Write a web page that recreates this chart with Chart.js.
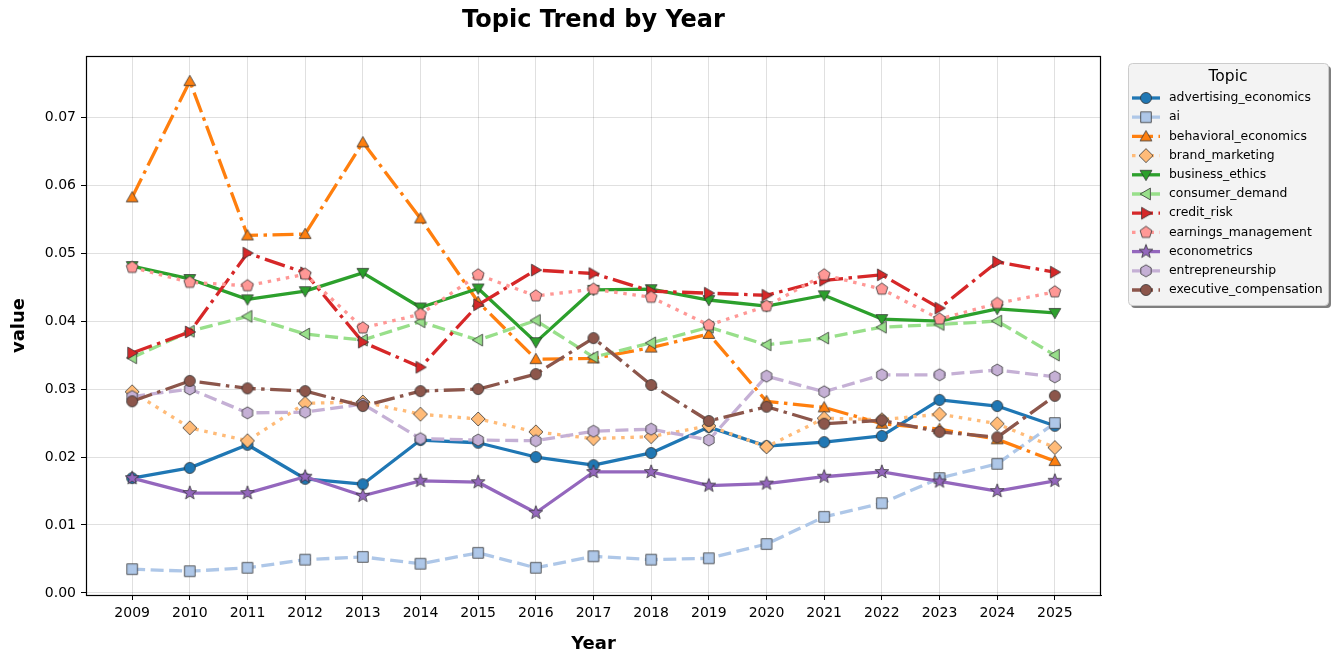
<!DOCTYPE html>
<html>
<head>
<meta charset="utf-8">
<title>Topic Trend by Year</title>
<script src="https://cdn.jsdelivr.net/npm/chart.js@4.4.0/dist/chart.umd.min.js"></script>
<style>
    html, body { margin: 0; padding: 0; background: #ffffff; }
    canvas { display: block; }
</style>
</head>
<body>
<canvas id="topicChart" width="1338" height="663"></canvas>
<script>
// Data
const years = [2009, 2010, 2011, 2012, 2013, 2014, 2015, 2016, 2017, 2018, 2019, 2020, 2021, 2022, 2023, 2024, 2025];
const yTicks = [0.00, 0.01, 0.02, 0.03, 0.04, 0.05, 0.06, 0.07];

const advertisingEconomics = [0.0169, 0.0184, 0.0218, 0.0168, 0.0160, 0.0225, 0.0221, 0.0200, 0.0188, 0.0206, 0.0244, 0.0216, 0.0222, 0.0231, 0.0284, 0.0275, 0.0246];
const ai = [0.0035, 0.0032, 0.0037, 0.0049, 0.0053, 0.0043, 0.0059, 0.0037, 0.0054, 0.0049, 0.0051, 0.0072, 0.0112, 0.0132, 0.0169, 0.0190, 0.0250];
const behavioralEconomics = [0.0582, 0.0753, 0.0526, 0.0528, 0.0663, 0.0551, 0.0428, 0.0344, 0.0345, 0.0361, 0.0381, 0.0282, 0.0273, 0.0249, 0.0241, 0.0226, 0.0194];
const brandMarketing = [0.0296, 0.0243, 0.0224, 0.0279, 0.0281, 0.0263, 0.0256, 0.0237, 0.0227, 0.0230, 0.0246, 0.0215, 0.0257, 0.0255, 0.0263, 0.0249, 0.0214];
const businessEthics = [0.0481, 0.0462, 0.0432, 0.0444, 0.0471, 0.0420, 0.0448, 0.0369, 0.0446, 0.0447, 0.0431, 0.0422, 0.0438, 0.0403, 0.0400, 0.0418, 0.0412];
const consumerDemand = [0.0346, 0.0385, 0.0407, 0.0381, 0.0372, 0.0399, 0.0372, 0.0401, 0.0347, 0.0368, 0.0391, 0.0365, 0.0375, 0.0391, 0.0395, 0.0400, 0.0350];
const creditRisk = [0.0353, 0.0384, 0.0500, 0.0471, 0.0369, 0.0332, 0.0424, 0.0475, 0.0470, 0.0444, 0.0441, 0.0438, 0.0460, 0.0468, 0.0419, 0.0487, 0.0472];
const earningsManagement = [0.0479, 0.0457, 0.0452, 0.0469, 0.0390, 0.0410, 0.0468, 0.0437, 0.0447, 0.0435, 0.0394, 0.0422, 0.0468, 0.0447, 0.0403, 0.0426, 0.0443];
const econometrics = [0.0169, 0.0147, 0.0147, 0.0171, 0.0143, 0.0165, 0.0163, 0.0118, 0.0178, 0.0178, 0.0158, 0.0161, 0.0171, 0.0178, 0.0164, 0.0150, 0.0165];
const entrepreneurship = [0.0289, 0.0300, 0.0265, 0.0266, 0.0278, 0.0227, 0.0225, 0.0224, 0.0238, 0.0241, 0.0225, 0.0319, 0.0296, 0.0321, 0.0321, 0.0328, 0.0318];
const executiveCompensation = [0.0282, 0.0312, 0.0301, 0.0297, 0.0275, 0.0297, 0.0300, 0.0322, 0.0375, 0.0306, 0.0253, 0.0274, 0.0249, 0.0254, 0.0237, 0.0229, 0.0290];

// Line styles (matplotlib-like dash patterns)
const dashes = {
    solid: [],
    dashed: [13, 5.5],
    dashdot: [21, 5.5, 3.5, 5.5],
    dotted: [3.5, 5.7]
};

const series = [
    { label: 'advertising_economics', data: advertisingEconomics, color: '#1f77b4', dash: 'solid', marker: 'circle' },
    { label: 'ai', data: ai, color: '#aec7e8', dash: 'dashed', marker: 'square' },
    { label: 'behavioral_economics', data: behavioralEconomics, color: '#ff7f0e', dash: 'dashdot', marker: 'triUp' },
    { label: 'brand_marketing', data: brandMarketing, color: '#ffbb78', dash: 'dotted', marker: 'diamond' },
    { label: 'business_ethics', data: businessEthics, color: '#2ca02c', dash: 'solid', marker: 'triDown' },
    { label: 'consumer_demand', data: consumerDemand, color: '#98df8a', dash: 'dashed', marker: 'triLeft' },
    { label: 'credit_risk', data: creditRisk, color: '#d62728', dash: 'dashdot', marker: 'triRight' },
    { label: 'earnings_management', data: earningsManagement, color: '#ff9896', dash: 'dotted', marker: 'pentagon' },
    { label: 'econometrics', data: econometrics, color: '#9467bd', dash: 'solid', marker: 'star' },
    { label: 'entrepreneurship', data: entrepreneurship, color: '#c5b0d5', dash: 'dashed', marker: 'hexagon' },
    { label: 'executive_compensation', data: executiveCompensation, color: '#8c564b', dash: 'dashdot', marker: 'circle' }
];

// Marker images
function polygon(ctx, cx, cy, r, n, startAngle) {
    ctx.beginPath();
    for (let i = 0; i < n; i++) {
        const a = startAngle + i * 2 * Math.PI / n;
        const px = cx + r * Math.cos(a), py = cy + r * Math.sin(a);
        if (i === 0) ctx.moveTo(px, py); else ctx.lineTo(px, py);
    }
    ctx.closePath();
}

function makeMarker(shape, color) {
    const size = 20;
    const c = document.createElement('canvas');
    c.width = size; c.height = size;
    const ctx = c.getContext('2d');
    const m = size / 2;
    ctx.fillStyle = color;
    ctx.strokeStyle = '#333333';
    ctx.lineWidth = 0.8;
    ctx.lineJoin = 'miter';
    switch (shape) {
        case 'circle':
            ctx.beginPath();
            ctx.arc(m, m, 5.5, 0, Math.PI * 2);
            break;
        case 'square':
            ctx.beginPath();
            ctx.rect(m - 5.3, m - 5.3, 10.6, 10.6);
            break;
        case 'diamond':
            polygon(ctx, m, m, 7, 4, -Math.PI / 2);
            break;
        case 'triUp':
            polygon(ctx, m, m + 1, 6.8, 3, -Math.PI / 2);
            break;
        case 'triDown':
            polygon(ctx, m, m - 1, 6.8, 3, Math.PI / 2);
            break;
        case 'triLeft':
            polygon(ctx, m + 1, m, 6.8, 3, Math.PI);
            break;
        case 'triRight':
            polygon(ctx, m - 1, m, 6.8, 3, 0);
            break;
        case 'pentagon':
            polygon(ctx, m, m, 6.2, 5, -Math.PI / 2);
            break;
        case 'hexagon':
            polygon(ctx, m, m, 6, 6, -Math.PI / 2);
            break;
        case 'star':
            ctx.beginPath();
            for (let i = 0; i < 10; i++) {
                const r = i % 2 === 0 ? 7.2 : 3;
                const a = -Math.PI / 2 + i * Math.PI / 5;
                const px = m + r * Math.cos(a), py = m + r * Math.sin(a);
                if (i === 0) ctx.moveTo(px, py); else ctx.lineTo(px, py);
            }
            ctx.closePath();
            break;
    }
    ctx.fill();
    ctx.stroke();
    return c;
}

series.forEach(s => { s.markerImg = makeMarker(s.marker, s.color); });

const datasets = series.map((s, i) => ({
    label: s.label,
    data: years.map((yr, k) => ({ x: yr, y: s.data[k] })),
    borderColor: s.color,
    backgroundColor: s.color,
    borderWidth: 3.3,
    borderDash: dashes[s.dash],
    borderCapStyle: 'butt',
    borderJoinStyle: 'round',
    tension: 0,
    pointStyle: s.markerImg,
    pointRadius: 6,
    pointHoverRadius: 6,
    order: series.length - i
}));

// Frame, title and legend drawn on top of the chart
const decorPlugin = {
    id: 'decor',
    afterDraw(chart) {
        const ctx = chart.ctx;
        const a = chart.chartArea;
        ctx.save();
        // axes frame
        ctx.strokeStyle = '#000000';
        ctx.lineWidth = 1.2;
        ctx.strokeRect(a.left + 0.5, a.top + 0.5, a.right - a.left - 1, a.bottom - a.top);

        // chart title
        ctx.fillStyle = '#000000';
        ctx.font = 'bold 24px "DejaVu Sans"';
        ctx.textAlign = 'center';
        ctx.textBaseline = 'middle';
        ctx.fillText('Topic Trend by Year', (a.left + a.right) / 2, 21);

        // legend box
        const bx = 1128, by = 63, bw = 200, bh = 242;
        ctx.fillStyle = 'rgba(0,0,0,0.5)';
        ctx.beginPath();
        ctx.roundRect(bx + 3, by + 3, bw, bh, 4);
        ctx.fill();
        ctx.fillStyle = '#f3f3f3';
        ctx.strokeStyle = '#cccccc';
        ctx.lineWidth = 1;
        ctx.beginPath();
        ctx.roundRect(bx + 0.5, by + 0.5, bw, bh, 4);
        ctx.fill();
        ctx.stroke();

        ctx.fillStyle = '#000000';
        ctx.font = '15.5px "DejaVu Sans"';
        ctx.textAlign = 'center';
        ctx.fillText('Topic', bx + bw / 2, by + 13.5);

        ctx.font = '12.4px "DejaVu Sans"';
        ctx.textAlign = 'left';
        series.forEach((s, i) => {
            const yy = by + 35 + i * 19.2;
            ctx.strokeStyle = s.color;
            ctx.lineWidth = 3.3;
            ctx.setLineDash(dashes[s.dash]);
            ctx.beginPath();
            ctx.moveTo(bx + 4, yy);
            ctx.lineTo(bx + 32, yy);
            ctx.stroke();
            ctx.setLineDash([]);
            ctx.drawImage(s.markerImg, bx + 18 - s.markerImg.width / 2, yy - s.markerImg.height / 2);
            ctx.fillStyle = '#000000';
            ctx.fillText(s.label, bx + 41, yy);
        });
        ctx.restore();
    }
};

const tickFont = { family: 'DejaVu Sans', size: 14 };
const axisTitleFont = { family: 'DejaVu Sans', size: 18, weight: 'bold' };

new Chart(document.getElementById('topicChart'), {
    type: 'line',
    data: { datasets: datasets },
    options: {
        responsive: false,
        devicePixelRatio: 1,
        animation: false,
        events: [],
        layout: {
            padding: { top: 56, right: 237, bottom: 0, left: 0 }
        },
        plugins: {
            legend: { display: false },
            tooltip: { enabled: false },
            title: { display: false }
        },
        scales: {
            x: {
                type: 'linear',
                min: 2008.2,
                max: 2025.8,
                afterFit: function (scale) { scale.height = 68; },
                afterBuildTicks: function (scale) {
                    scale.ticks = years.map(v => ({ value: v }));
                },
                ticks: {
                    font: tickFont,
                    color: '#000000',
                    padding: 5,
                    maxRotation: 0,
                    autoSkip: false,
                    callback: function (value) { return String(value); }
                },
                grid: {
                    color: 'rgba(0,0,0,0.12)',
                    tickColor: '#000000',
                    tickLength: 5
                },
                border: { display: true, color: '#000000', width: 1 },
                title: {
                    display: true,
                    text: 'Year',
                    font: axisTitleFont,
                    color: '#000000',
                    padding: { top: 0, bottom: 8 }
                }
            },
            y: {
                type: 'linear',
                min: -0.0003,
                max: 0.079,
                afterFit: function (scale) { scale.width = 86; },
                afterBuildTicks: function (scale) {
                    scale.ticks = yTicks.map(v => ({ value: v }));
                },
                ticks: {
                    font: tickFont,
                    color: '#000000',
                    padding: 5,
                    callback: function (value) { return value.toFixed(2); }
                },
                grid: {
                    color: 'rgba(0,0,0,0.12)',
                    tickColor: '#000000',
                    tickLength: 5
                },
                border: { display: true, color: '#000000', width: 1 },
                title: {
                    display: true,
                    text: 'value',
                    font: axisTitleFont,
                    color: '#000000',
                    padding: { top: 9, bottom: 0 }
                }
            }
        }
    },
    plugins: [decorPlugin]
});
</script>
</body>
</html>
